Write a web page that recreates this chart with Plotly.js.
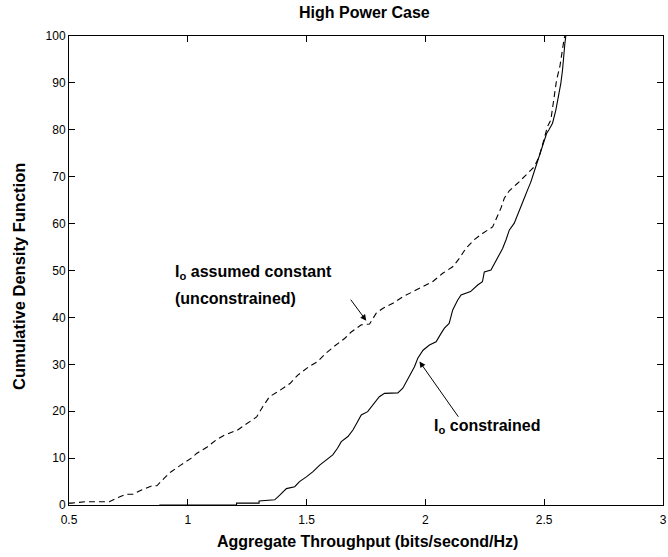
<!DOCTYPE html>
<html>
<head>
<meta charset="utf-8">
<script src="https://cdn.plot.ly/plotly-3.0.1.min.js"></script>
<style>html,body{margin:0;padding:0;background:#fff;}#chart{width:668px;height:557px;}</style>
</head>
<body>
<div id="chart"></div>
<script>
// Dashed curve: I_o assumed constant (unconstrained)
var unconX = [0.5, 0.511, 0.57, 0.67, 0.707, 0.74, 0.77, 0.805, 0.85, 0.87, 0.90, 0.93, 0.97, 1.015, 1.037, 1.08, 1.12, 1.154, 1.21, 1.25, 1.29, 1.316, 1.344, 1.38, 1.43, 1.463, 1.51, 1.547, 1.58, 1.618, 1.66, 1.688, 1.73, 1.765, 1.793, 1.82, 1.863, 1.905, 1.947, 1.99, 2.03, 2.073, 2.115, 2.143, 2.17, 2.206, 2.24, 2.283, 2.304, 2.318, 2.332, 2.353, 2.388, 2.423, 2.458, 2.479, 2.493, 2.514, 2.528, 2.535, 2.542, 2.552, 2.566, 2.573, 2.584, 2.587];
var unconY = [0.4, 0.4, 0.7, 0.7, 1.6, 2.3, 2.3, 3.2, 4.1, 4.1, 5.7, 7.1, 8.5, 10.0, 11.0, 12.3, 13.9, 14.9, 16, 17.4, 18.8, 21, 23.1, 24.2, 25.9, 27.7, 29.5, 30.6, 32.3, 33.9, 35.5, 36.9, 38.4, 38.6, 40.9, 41.9, 43, 44.4, 45.5, 46.5, 47.6, 49.4, 50.8, 52.6, 54.7, 56.6, 57.9, 59.3, 61.5, 63.3, 65.4, 67, 68.6, 70.4, 72.1, 74.3, 77.1, 80.7, 82.1, 84.9, 87.8, 90.6, 93.5, 96.3, 99.5, 100];

// Solid curve: I_o constrained
var conX = [0.88, 1.205, 1.205, 1.30, 1.30, 1.366, 1.387, 1.415, 1.45, 1.47, 1.499, 1.527, 1.555, 1.583, 1.61, 1.63, 1.646, 1.674, 1.695, 1.715, 1.73, 1.757, 1.778, 1.806, 1.828, 1.884, 1.905, 1.93, 1.954, 1.968, 1.99, 2.017, 2.045, 2.066, 2.08, 2.10, 2.115, 2.136, 2.15, 2.19, 2.22, 2.24, 2.248, 2.276, 2.29, 2.31, 2.325, 2.339, 2.353, 2.374, 2.388, 2.402, 2.416, 2.43, 2.444, 2.458, 2.472, 2.486, 2.5, 2.51, 2.52, 2.535, 2.549, 2.56, 2.57, 2.577, 2.581, 2.587, 2.591];
var conY = [0, 0, 0.4, 0.4, 0.85, 1.1, 2.1, 3.5, 3.9, 5, 6, 7.1, 8.5, 9.6, 10.7, 12.1, 13.5, 14.6, 16, 17.8, 19.2, 19.9, 21.3, 23.1, 23.8, 23.9, 24.9, 27.4, 29.5, 31.3, 33, 34.1, 34.8, 36.6, 37.7, 38.7, 41.6, 43.7, 44.8, 45.5, 46.9, 47.6, 49.7, 50.1, 51.5, 53.3, 54.7, 56.5, 58.6, 60.1, 61.8, 63.3, 65.4, 67.2, 68.9, 71.1, 73.2, 75.3, 77.8, 79.2, 80, 81.4, 84.2, 87.1, 89.9, 92.7, 95.6, 98.4, 100];

var xTicks = [0.5, 1, 1.5, 2, 2.5, 3];
var xTickText = ['0.5', '1', '1.5', '2', '2.5', '3'];
var yTicks = [0, 10, 20, 30, 40, 50, 60, 70, 80, 90, 100];

var FONT = 'Liberation Sans, Arial, Helvetica, sans-serif';

var traces = [
  {x: unconX, y: unconY, type: 'scatter', mode: 'lines', line: {color: '#000', width: 1.1, dash: '6px,4px'}, hoverinfo: 'skip'},
  {x: conX, y: conY, type: 'scatter', mode: 'lines', line: {color: '#000', width: 1.1}, hoverinfo: 'skip'}
];

var axisCommon = {
  showline: true, linecolor: '#000', linewidth: 1, mirror: 'ticks',
  ticks: 'inside', ticklen: 6, tickcolor: '#000', tickwidth: 1,
  showgrid: false, zeroline: false,
  tickfont: {family: FONT, size: 12, color: '#000'}
};

var layout = {
  width: 668, height: 557,
  margin: {l: 69, r: 5, t: 36, b: 52},
  paper_bgcolor: '#fff', plot_bgcolor: '#fff',
  showlegend: false,
  title: {text: '<b>High Power Case</b>', font: {family: FONT, size: 16, color: '#000'}, x: 0.5455, xanchor: 'center', y: 0.978, yanchor: 'middle'},
  xaxis: Object.assign({}, axisCommon, {
    range: [0.5, 3], tickvals: xTicks, ticktext: xTickText, ticklabelstandoff: 4
  }),
  yaxis: Object.assign({}, axisCommon, {
    range: [0, 100], tickvals: yTicks
  }),
  annotations: [
    {x: 1.751, y: 39.3, ax: 1.681, ay: 44.1, xref: 'x', yref: 'y', axref: 'x', ayref: 'y', text: '', showarrow: true, arrowhead: 2, arrowsize: 1.2, arrowwidth: 1, arrowcolor: '#000'},
    {x: 1.975, y: 30.6, ax: 2.143, ay: 18.5, xref: 'x', yref: 'y', axref: 'x', ayref: 'y', text: '', showarrow: true, arrowhead: 2, arrowsize: 1.2, arrowwidth: 1, arrowcolor: '#000'},
    {x: 173, y: 272, xref: 'paper', yref: 'paper', text: '<b>I<sub>o</sub> assumed constant</b>', showarrow: false, xanchor: 'left', yanchor: 'middle', font: {family: FONT, size: 16, color: '#000'}},
    {x: 173, y: 298, xref: 'paper', yref: 'paper', text: '<b>(unconstrained)</b>', showarrow: false, xanchor: 'left', yanchor: 'middle', font: {family: FONT, size: 16, color: '#000'}},
    {x: 432, y: 426, xref: 'paper', yref: 'paper', text: '<b>I<sub>o</sub> constrained</b>', showarrow: false, xanchor: 'left', yanchor: 'middle', font: {family: FONT, size: 16, color: '#000'}},
    {x: 367, y: 541, xref: 'paper', yref: 'paper', text: '<b>Aggregate Throughput (bits/second/Hz)</b>', showarrow: false, xanchor: 'center', yanchor: 'middle', font: {family: FONT, size: 16, color: '#000'}},
    {x: 19, y: 277, xref: 'paper', yref: 'paper', text: '<b>Cumulative Density Function</b>', textangle: -90, showarrow: false, xanchor: 'center', yanchor: 'middle', font: {family: FONT, size: 16.5, color: '#000'}}
  ]
};

// convert pixel-based annotation positions to paper coordinates
var pw = 668 - layout.margin.l - layout.margin.r, ph = 557 - layout.margin.t - layout.margin.b;
layout.annotations.forEach(function (a) {
  if (a.xref === 'paper') {
    a.x = (a.x - layout.margin.l) / pw;
    a.y = 1 - (a.y - layout.margin.t) / ph;
  }
});

Plotly.newPlot('chart', traces, layout, {displayModeBar: false, staticPlot: true});
</script>
</body>
</html>
